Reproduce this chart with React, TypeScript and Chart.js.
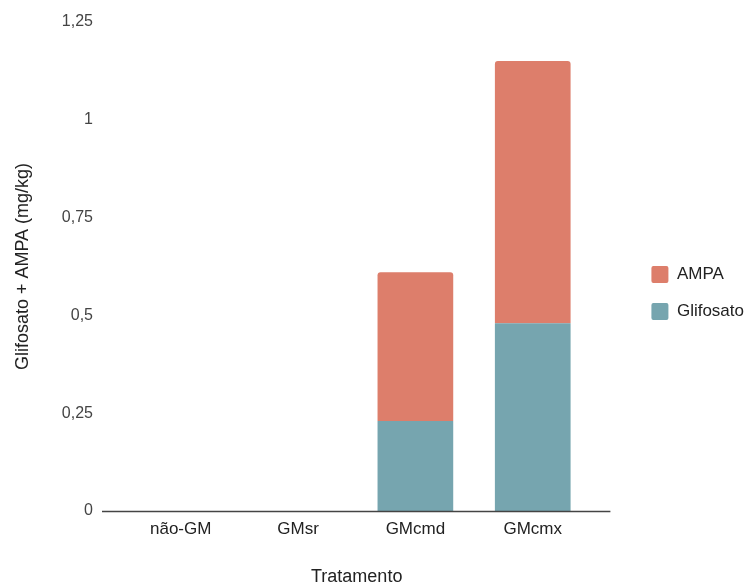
import React, { useEffect, useRef } from "react";
import { Chart, registerables } from "chart.js";

Chart.register(...registerables);

const categories = ["não-GM", "GMsr", "GMcmd", "GMcmx"];
const glifosato = [0, 0, 0.23, 0.48];
const ampa = [0, 0, 0.38, 0.67];
const yMax = 1.25;
const yStep = 0.25;

const FONT = "'Liberation Sans', Arial, sans-serif";

const baselinePlugin = {
  id: "baseline",
  afterDatasetsDraw(chart: any) {
    const { ctx, chartArea, scales } = chart;
    const y = Math.round(scales.y.getPixelForValue(0)) + 0.5;
    ctx.save();
    ctx.strokeStyle = "#444";
    ctx.lineWidth = 1.5;
    ctx.beginPath();
    ctx.moveTo(chartArea.left - 20, y);
    ctx.lineTo(chartArea.right + 19, y);
    ctx.stroke();
    ctx.restore();
  },
};

export default function App() {
  const ref = useRef<HTMLCanvasElement>(null);
  useEffect(() => {
    if (!ref.current) return;
    const chart = new Chart(ref.current, {
      type: "bar",
      data: {
        labels: categories,
        datasets: [
          {
            label: "Glifosato",
            data: glifosato,
            backgroundColor: "#76a5af",
            borderWidth: 0,
            borderRadius: 0,
            xAxisID: "x",
            yAxisID: "y",
            categoryPercentage: 1,
            barPercentage: 0.645,
          },
          {
            label: "AMPA",
            data: ampa,
            backgroundColor: "#dd7e6b",
            borderWidth: 0,
            borderRadius: { topLeft: 3, topRight: 3, bottomLeft: 0, bottomRight: 0 },
            xAxisID: "x",
            yAxisID: "y",
            categoryPercentage: 1,
            barPercentage: 0.645,
          },
        ],
      },
      options: {
        responsive: false,
        animation: false,
        layout: { padding: 0 },
        scales: {
          x: {
            stacked: true,
            position: "bottom",
            grid: { display: false, drawTicks: false },
            border: { display: false },
            ticks: { color: "#222", padding: 8, font: { family: FONT, size: 17 } },
            title: {
              display: true,
              text: "Tratamento",
              color: "#222",
              padding: { top: 0, bottom: -2 },
              font: { family: FONT, size: 18 },
            },
            afterFit(s: any) {
              s.height = 75;
            },
          },
          y: {
            stacked: true,
            position: "left",
            min: 0,
            max: yMax,
            grid: { display: false, drawTicks: true, tickLength: 29 },
            border: { display: false },
            ticks: {
              stepSize: yStep,
              color: "#444",
              padding: 0,
              font: { family: FONT, size: 16 },
              callback: (v: any) => String(Math.round(Number(v) * 100) / 100).replace(".", ","),
            },
            title: {
              display: true,
              text: "Glifosato + AMPA (mg/kg)",
              color: "#222",
              padding: { top: 12, bottom: 0 },
              font: { family: FONT, size: 18 },
            },
            afterFit(s: any) {
              s.width = 122;
            },
          },
          xTop: {
            type: "linear",
            position: "top",
            grid: { display: false, drawTicks: false },
            border: { display: false },
            ticks: { display: false },
            afterFit(s: any) {
              s.height = 22;
            },
          },
          yRight: {
            type: "linear",
            position: "right",
            grid: { display: false, drawTicks: false },
            border: { display: false },
            ticks: { display: false },
            afterFit(s: any) {
              s.width = 40;
            },
          },
        },
        plugins: {
          legend: {
            position: "right",
            reverse: true,
            labels: {
              boxWidth: 17,
              boxHeight: 17,
              padding: 20,
              useBorderRadius: true,
              borderRadius: 2,
              color: "#222",
              font: { family: FONT, size: 17 },
            },
          },
          tooltip: { enabled: false },
        },
      } as any,
      plugins: [baselinePlugin],
    });
    return () => chart.destroy();
  }, []);
  return (
    <div style={{ position: "absolute", left: 0, top: 0, width: 754, height: 586, background: "#fff" }}>
      <canvas ref={ref} width={754} height={586} style={{ display: "block" }} />
    </div>
  );
}
